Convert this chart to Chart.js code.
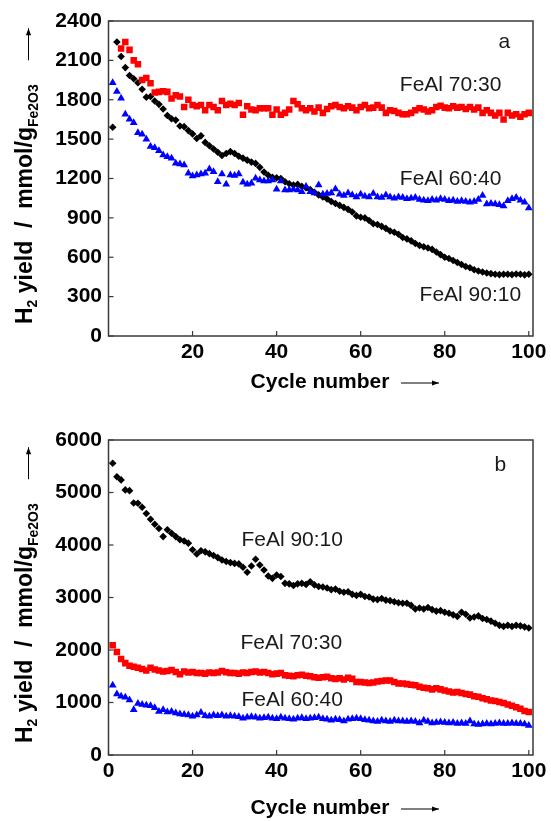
<!DOCTYPE html>
<html><head><meta charset="utf-8">
<script src="https://cdn.jsdelivr.net/npm/chart.js@4/dist/chart.umd.min.js"></script>
<style>
html,body{margin:0;padding:0;background:#fff;width:551px;height:821px;overflow:hidden}
.box{position:absolute;left:0;width:551px}
#b1{top:0;height:410px}
#b2{top:410px;height:411px}
</style></head><body>
<div class="box" id="b1"><canvas id="c1"></canvas></div>
<div class="box" id="b2"><canvas id="c2"></canvas></div>
<script>
const cycles = [1,2,3,4,5,6,7,8,9,10,11,12,13,14,15,16,17,18,19,20,21,22,23,24,25,26,27,28,29,30,31,32,33,34,35,36,37,38,39,40,41,42,43,44,45,46,47,48,49,50,51,52,53,54,55,56,57,58,59,60,61,62,63,64,65,66,67,68,69,70,71,72,73,74,75,76,77,78,79,80,81,82,83,84,85,86,87,88,89,90,91,92,93,94,95,96,97,98,99,100];

// Panel a
const aFeAl9010 = [1590,2240,2130,2045,1985,1960,1930,1880,1820,1825,1790,1765,1730,1680,1655,1645,1600,1595,1565,1540,1505,1525,1475,1450,1425,1400,1375,1390,1405,1390,1370,1355,1340,1325,1315,1285,1250,1225,1210,1205,1200,1175,1160,1150,1155,1140,1130,1115,1095,1075,1060,1045,1025,1010,995,980,965,945,915,905,900,880,855,850,835,820,800,790,775,750,740,725,705,690,680,670,660,640,620,600,590,575,560,545,530,520,505,495,488,480,475,470,468,470,470,468,472,470,466,470];
const aFeAl7030 = [null,null,2190,2240,2180,2100,2070,1950,1965,1925,1855,1860,1865,1860,1810,1835,1825,1745,1800,1760,1750,1760,1720,1760,1745,1720,1790,1760,1770,1760,1775,1685,1750,1725,1720,1735,1735,1735,1685,1725,1685,1700,1725,1790,1765,1735,1720,1735,1710,1740,1700,1730,1750,1760,1745,1735,1750,1740,1720,1745,1760,1735,1740,1760,1740,1700,1720,1715,1700,1690,1690,1700,1720,1735,1725,1710,1720,1745,1755,1740,1735,1750,1740,1745,1730,1745,1725,1740,1700,1720,1700,1680,1700,1650,1700,1680,1690,1670,1690,1700];
const aFeAl6040 = [1930,1862,1811,1689,1651,1625,1549,1537,1499,1443,1435,1412,1379,1366,1354,1316,1311,1303,1240,1219,1227,1234,1240,1273,1252,1176,1234,1156,1227,1222,1234,1171,1156,1163,1201,1189,1181,1181,1189,1118,1181,1112,1112,1118,1112,1100,1140,1100,1090,1150,1080,1085,1090,1120,1080,1070,1090,1075,1060,1080,1065,1060,1085,1060,1055,1075,1060,1050,1060,1055,1045,1050,1055,1040,1035,1030,1040,1035,1045,1040,1030,1035,1025,1030,1025,1020,1025,1040,1070,1005,1010,1005,1000,990,1030,1045,1055,1035,1020,975];

// Panel b
const bFeAl9010 = [5556,5300,5240,5050,5035,4800,4795,4720,4600,4490,4395,4315,4160,4290,4225,4160,4100,4075,4035,3910,3830,3890,3870,3835,3800,3760,3715,3685,3665,3650,3640,3575,3480,3600,3730,3620,3525,3410,3365,3430,3400,3270,3260,3230,3260,3270,3250,3300,3240,3210,3200,3180,3150,3160,3120,3100,3110,3060,3040,3060,3020,3010,2970,2960,2980,2950,2940,2920,2900,2890,2890,2850,2780,2800,2780,2810,2770,2740,2750,2720,2700,2670,2640,2720,2680,2610,2630,2650,2600,2580,2550,2510,2470,2450,2470,2450,2470,2460,2440,2420];
const bFeAl7030 = [2090,1960,1830,1750,1700,1680,1660,1640,1610,1660,1630,1610,1590,1600,1620,1580,1540,1590,1570,1580,1560,1560,1550,1570,1560,1570,1600,1575,1560,1560,1550,1570,1560,1580,1590,1570,1580,1560,1540,1550,1560,1520,1510,1500,1520,1530,1510,1500,1480,1470,1480,1490,1460,1450,1460,1440,1470,1450,1390,1390,1380,1370,1380,1400,1410,1420,1420,1390,1360,1360,1350,1340,1330,1300,1280,1270,1250,1270,1250,1230,1210,1190,1200,1180,1160,1150,1120,1110,1080,1060,1040,1030,1010,990,960,940,910,880,840,820];
const bFeAl6040 = [1330,1160,1120,1100,1050,860,980,960,950,940,900,830,860,820,830,800,780,770,760,740,760,810,750,740,760,750,760,740,750,740,730,700,720,730,720,700,710,720,700,690,720,700,690,680,700,710,690,700,710,720,690,680,660,680,670,650,680,690,700,690,670,660,650,640,660,650,640,660,650,650,640,650,640,610,660,640,610,620,630,620,610,620,600,610,600,650,590,580,590,600,590,600,610,600,600,610,600,600,590,560];

const xTicksA = [20,40,60,80,100];
const xTicksB = [0,20,40,60,80,100];
const yTicksA = [0,300,600,900,1200,1500,1800,2100,2400];
const yTicksB = [0,1000,2000,3000,4000,5000,6000];

const notesA = [
  {t:'FeAl 70:30', x:81.4, y:1913},
  {t:'FeAl 60:40', x:81.4, y:1196},
  {t:'FeAl 90:10', x:86.1, y:312},
  {t:'a', x:94.2, y:2240}
];
const notesB = [
  {t:'FeAl 90:10', x:43.7, y:4096},
  {t:'FeAl 70:30', x:43.5, y:2134},
  {t:'FeAl 60:40', x:43.7, y:1048},
  {t:'b', x:93.2, y:5525}
];

const FAM = '"Liberation Sans", Arial, Helvetica, sans-serif';
Chart.defaults.font.family = FAM;
Chart.defaults.animation = false;

function pts(vals){ const out=[]; cycles.forEach((c,i)=>{ if(vals[i]!=null) out.push({x:c,y:vals[i]}); }); return out; }

function arrow(ctx,x1,y1,x2,y2){
  ctx.beginPath(); ctx.moveTo(x1,y1); ctx.lineTo(x2,y2); ctx.stroke();
  const ang=Math.atan2(y2-y1,x2-x1), L=7, W=2.6;
  ctx.beginPath();
  ctx.moveTo(x2,y2);
  ctx.lineTo(x2-L*Math.cos(ang)+W*Math.sin(ang), y2-L*Math.sin(ang)-W*Math.cos(ang));
  ctx.lineTo(x2-L*Math.cos(ang)-W*Math.sin(ang), y2-L*Math.sin(ang)+W*Math.cos(ang));
  ctx.closePath(); ctx.fill();
}

function deco(cfg){
  return {
    id:'deco',
    afterDraw(chart){
      const ctx=chart.ctx, a=chart.chartArea, x=chart.scales.x, y=chart.scales.y;
      ctx.save();
      ctx.strokeStyle='#3a3a3a'; ctx.lineWidth=1.5;
      ctx.strokeRect(a.left,a.top,a.right-a.left,a.bottom-a.top);
      ctx.lineWidth=1.2;
      y.ticks.forEach(t=>{const p=y.getPixelForValue(t.value); ctx.beginPath(); ctx.moveTo(a.left,p); ctx.lineTo(a.left+5,p); ctx.stroke();});
      x.ticks.forEach(t=>{const p=x.getPixelForValue(t.value); ctx.beginPath(); ctx.moveTo(p,a.bottom); ctx.lineTo(p,a.bottom-5); ctx.stroke();});
      // notes
      ctx.fillStyle='#1a1a1a'; ctx.font='21px '+FAM; ctx.textAlign='center'; ctx.textBaseline='middle';
      cfg.notes.forEach(n=>ctx.fillText(n.t, x.getPixelForValue(n.x), y.getPixelForValue(n.y)));
      // x title
      ctx.fillStyle='#000'; ctx.strokeStyle='#000'; ctx.lineWidth=1;
      ctx.font='bold 21px '+FAM; ctx.textAlign='center'; ctx.textBaseline='middle';
      ctx.fillText('Cycle number', 320, cfg.xTitleY);
      arrow(ctx, 401, cfg.xTitleY+1, 439, cfg.xTitleY+1);
      // y title (rotated)
      ctx.save();
      ctx.translate(cfg.yBase, a.bottom-12);
      ctx.rotate(-Math.PI/2);
      ctx.textAlign='left'; ctx.textBaseline='alphabetic';
      const big='bold 23px '+FAM, small='bold 14px '+FAM;
      const parts=[['H',big,0],['2',small,5],[' yield  /  mmol/g',big,0],['Fe2O3',small,6]];
      let px=0;
      parts.forEach(p=>{ctx.font=p[1]; ctx.fillText(p[0],px,p[2]); px+=ctx.measureText(p[0]).width;});
      ctx.lineWidth=1;
      arrow(ctx, px+24, -3, px+56, -3);
      ctx.restore();
      ctx.restore();
    }
  };
}

function makeChart(id, data, xt, yt, ymax, notes, xH, xTitleY, padTop){
  const ds = [
    {label:'FeAl 60:40', data:pts(data[2]), pointStyle:'triangle', pointRadius:4.5, backgroundColor:'#0000ff', borderWidth:0, showLine:false},
    {label:'FeAl 70:30', data:pts(data[1]), pointStyle:'rect', pointRadius:4.6, backgroundColor:'#ff0000', borderWidth:0, showLine:false},
    {label:'FeAl 90:10', data:pts(data[0]), pointStyle:'rectRot', pointRadius:3.8, backgroundColor:'#000000', borderWidth:0, showLine:false}
  ];
  return new Chart(document.getElementById(id), {
    type:'scatter',
    data:{datasets:ds},
    options:{
      responsive:true, maintainAspectRatio:false, animation:false,
      layout:{padding:{top:padTop, right:18, left:0, bottom:0}},
      plugins:{legend:{display:false}, tooltip:{enabled:false}},
      scales:{
        x:{type:'linear', min:0, max:101,
           afterBuildTicks:s=>{s.ticks=xt.map(v=>({value:v}));},
           afterFit:s=>{s.height=xH;},
           grid:{display:false, drawTicks:false}, border:{display:false},
           ticks:{padding:4, color:'#000', font:{size:21, weight:'bold'}, maxRotation:0, autoSkip:false, callback:v=>String(v)}},
        y:{type:'linear', min:0, max:ymax,
           afterBuildTicks:s=>{s.ticks=yt.map(v=>({value:v}));},
           afterFit:s=>{s.width=108.5;},
           grid:{display:false, drawTicks:false}, border:{display:false},
           ticks:{padding:6.5, color:'#000', font:{size:21, weight:'bold'}, autoSkip:false, callback:v=>String(v)}}
      }
    },
    plugins:[deco({notes:notes, xTitleY:xTitleY, yBase:31.5})]
  });
}

makeChart('c1', [aFeAl9010,aFeAl7030,aFeAl6040], xTicksA, yTicksA, 2400, notesA, 74, 382, 21);
makeChart('c2', [bFeAl9010,bFeAl7030,bFeAl6040], xTicksB, yTicksB, 6000, notesB, 66, 398, 30);
</script>
</body></html>
